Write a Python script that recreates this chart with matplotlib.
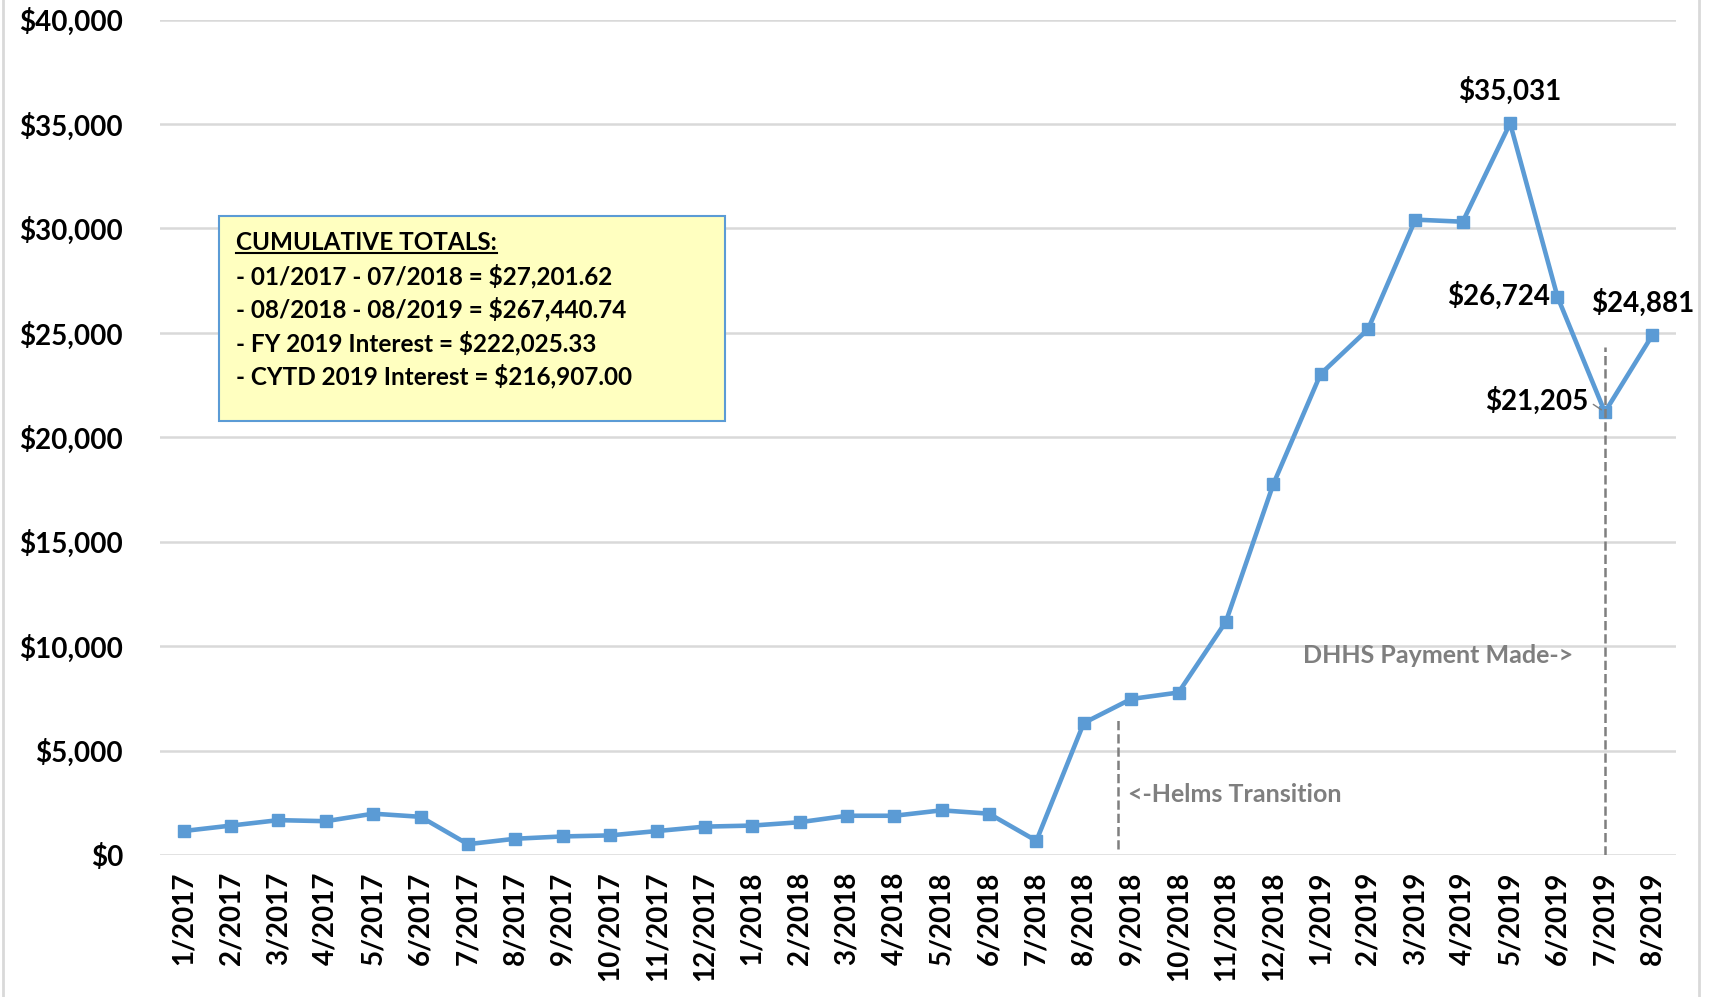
import matplotlib.pyplot as plt
from matplotlib.lines import Line2D
from matplotlib.patches import Rectangle
from matplotlib.ticker import FuncFormatter

plt.rcParams['font.family'] = ['Lato', 'DejaVu Sans']

months = ['1/2017', '2/2017', '3/2017', '4/2017', '5/2017', '6/2017', '7/2017', '8/2017',
          '9/2017', '10/2017', '11/2017', '12/2017', '1/2018', '2/2018', '3/2018', '4/2018',
          '5/2018', '6/2018', '7/2018', '8/2018', '9/2018', '10/2018', '11/2018', '12/2018',
          '1/2019', '2/2019', '3/2019', '4/2019', '5/2019', '6/2019', '7/2019', '8/2019']
interest = [1150, 1410, 1670, 1620, 1980, 1830, 520, 780,
            890, 940, 1150, 1360, 1410, 1570, 1880, 1880,
            2140, 1980, 680, 6320, 7470, 7780, 11170, 17750,
            23030, 25170, 30420, 30320, 35031, 26724, 21205, 24881]

box_lines = ['- 01/2017 - 07/2018 = $27,201.62',
             '- 08/2018 - 08/2019 = $267,440.74',
             '- FY 2019 Interest = $222,025.33',
             '- CYTD 2019 Interest = $216,907.00']

blue = '#5B9BD5'
gray = '#7F7F7F'

fig = plt.figure(figsize=(17.11, 9.97), dpi=100)
ax = fig.add_axes([0.0935, 0.1424, 0.886, 0.838])

x = list(range(len(months)))
ax.plot(x, interest, '-s', color=blue, linewidth=3.3, markersize=8.5, zorder=3)

ax.set_xlim(-0.5, len(months) - 0.5)
ax.set_ylim(0, 40000)
ax.set_yticks(range(0, 40001, 5000))
ax.yaxis.set_major_formatter(FuncFormatter(lambda v, p: '${:,.0f}'.format(v)))
ax.set_xticks(x)
ax.set_xticklabels(months, rotation=90)
for lab in ax.get_xticklabels() + ax.get_yticklabels():
    lab.set_fontweight('bold')
    lab.set_fontsize(20)
ax.tick_params(axis='y', length=0, pad=26.5)
ax.tick_params(axis='x', length=0, pad=12)
ax.grid(axis='y', color='#D9D9D9', linewidth=1.8)
ax.set_axisbelow(True)
for s in ax.spines.values():
    s.set_visible(False)

# data labels
lbl = dict(fontsize=20, fontweight='bold', color='black')
ax.annotate('$35,031', (28, interest[28]), xytext=(0, 13), textcoords='offset points',
            ha='center', va='bottom', **lbl)
ax.annotate('$26,724', (29, interest[29]), xytext=(-5, 1), textcoords='offset points',
            ha='right', va='center', **lbl)
ax.annotate('$21,205', (30, interest[30]), xytext=(-12, 8), textcoords='offset points',
            ha='right', va='center',
            arrowprops=dict(arrowstyle='-', color=gray, lw=1, relpos=(1, 0.5),
                            shrinkA=2, shrinkB=3), **lbl)
ax.annotate('$24,881', (31, interest[31]), xytext=(-7, 13), textcoords='offset points',
            ha='center', va='bottom', **lbl)

# dashed markers
ax.plot([19.72, 19.72], [300, 6560], color=gray, linestyle='--', linewidth=1.8, zorder=2)
ax.plot([30, 30], [0, 24330], color=gray, linestyle='--', linewidth=1.8, zorder=4)
ax.text(19.94, 2920, '<-Helms Transition', color=gray, fontsize=18, fontweight='bold',
        ha='left', va='center')
ax.text(29.33, 9530, 'DHHS Payment Made->', color=gray, fontsize=18, fontweight='bold',
        ha='right', va='center')

# cumulative totals box
W, H = 1711, 997
fig.add_artist(Rectangle((219 / W, 1 - 421 / H), 506 / W, 205 / H, transform=fig.transFigure,
                         facecolor='#FFFFC0', edgecolor=blue, linewidth=1.5, zorder=5))
title = fig.text(236 / W, 1 - 243 / H, 'CUMULATIVE TOTALS:', fontsize=17.5, fontweight='bold',
                 va='center', zorder=6)
for i, line in enumerate(box_lines):
    fig.text(236 / W, 1 - (276 + 33.4 * i) / H, line, fontsize=17.5, fontweight='bold',
             va='center', zorder=6)
fig.canvas.draw()
bb = title.get_window_extent().transformed(fig.transFigure.inverted())
fig.add_artist(Line2D([bb.x0, bb.x1], [bb.y0 + 0.002, bb.y0 + 0.002], color='black',
                      linewidth=1.5, transform=fig.transFigure, zorder=6))

# chart frame edges
fig.add_artist(Line2D([3 / W, 3 / W], [0, 1], color='#D9D9D9', linewidth=2))
fig.add_artist(Line2D([1699 / W, 1699 / W], [0, 1], color='#D9D9D9', linewidth=2))

fig.savefig('out.png', dpi=100)
